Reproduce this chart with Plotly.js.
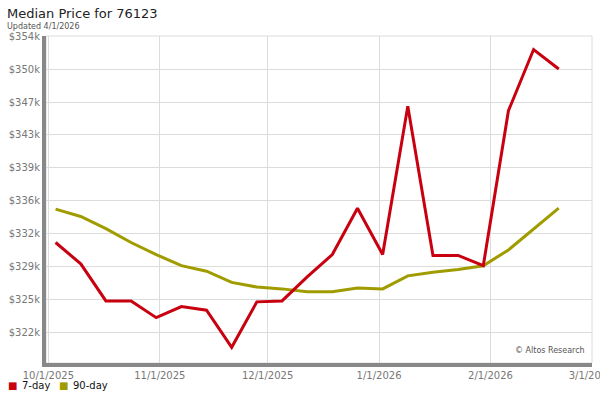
<!DOCTYPE html>
<html>
<head>
<meta charset="utf-8">
<script src="https://cdn.plot.ly/plotly-3.0.1.min.js"></script>
<style>html,body{margin:0;padding:0;background:#fff;}#chart{width:600px;height:400px;}</style>
</head>
<body>
<div id="chart"></div>
<script>
// Weekly dates
const dates = ["2025-10-03","2025-10-10","2025-10-17","2025-10-24","2025-10-31","2025-11-07","2025-11-14","2025-11-21","2025-11-28","2025-12-05","2025-12-12","2025-12-19","2025-12-26","2026-01-02","2026-01-09","2026-01-16","2026-01-23","2026-01-30","2026-02-06","2026-02-13","2026-02-20"];
// Median price, 7-day (thousands of $)
const sevenDay = [331.4,329.1,325.1,325.1,323.3,324.5,324.1,320.1,325.0,325.1,327.7,330.1,335.1,330.1,346.1,330.0,330.0,328.9,345.6,352.2,350.1];
// Median price, 90-day (thousands of $)
const ninetyDay = [335.0,334.2,332.9,331.4,330.1,328.9,328.3,327.1,326.6,326.4,326.1,326.1,326.5,326.4,327.8,328.2,328.5,328.9,330.6,332.8,335.1];
// Y tick positions and labels
const yTickVals = [321.75,325.29,328.83,332.37,335.91,339.45,342.99,346.53,350.07,353.61];
const yTickText = ["$322k","$325k","$329k","$332k","$336k","$339k","$343k","$347k","$350k","$354k"];
const xTickVals = ["2025-10-01","2025-11-01","2025-12-01","2026-01-01","2026-02-01","2026-03-01"];
const xTickText = ["10/1/2025","11/1/2025","12/1/2025","1/1/2026","2/1/2026","3/1/2026"];
const seriesNames = ["7-day", "90-day"];

const RED = "#c8000f";
const OLIVE = "#a09c00";
const FONT = "DejaVu Sans, Verdana, sans-serif";

const traces = [
  {x: dates, y: ninetyDay, type: "scatter", mode: "lines", line: {color: OLIVE, width: 3}, name: seriesNames[1], showlegend: false, hoverinfo: "skip"},
  {x: dates, y: sevenDay, type: "scatter", mode: "lines", line: {color: RED, width: 3}, name: seriesNames[0], showlegend: false, hoverinfo: "skip"}
];

const legY = -0.07;
const layout = {
  width: 600, height: 400,
  margin: {l: 46, r: 8, t: 36, b: 37},
  paper_bgcolor: "#fff", plot_bgcolor: "#fff",
  font: {family: FONT, size: 10, color: "#777"},
  showlegend: false,
  xaxis: {
    type: "date",
    range: ["2025-09-30 08:00", "2026-03-01 06:00"],
    tickvals: xTickVals, ticktext: xTickText,
    ticklabeloverflow: "allow",
    showgrid: true, gridcolor: "#dcdcdc", gridwidth: 1,
    showline: true, linecolor: "#888", linewidth: 4,
    ticks: "", zeroline: false,
    tickfont: {family: FONT, size: 10, color: "#777"}
  },
  yaxis: {
    range: [318.41, 353.66],
    tickvals: yTickVals, ticktext: yTickText,
    showgrid: true, gridcolor: "#dcdcdc", gridwidth: 1,
    showline: true, linecolor: "#888", linewidth: 4,
    ticks: "", zeroline: false,
    tickfont: {family: FONT, size: 10, color: "#777"}
  },
  shapes: [
    {type: "rect", xref: "paper", yref: "paper", x0: 0, x1: 1, y0: 0, y1: 1, line: {color: "#dcdcdc", width: 1}, fillcolor: "rgba(0,0,0,0)", layer: "below"}
  ],
  annotations: [
    {text: "Median Price for 76123", xref: "paper", yref: "paper", x: -0.073, y: 1.095, xanchor: "left", yanchor: "top", borderpad: 0, showarrow: false, font: {family: FONT, size: 13, color: "#222"}},
    {text: "Updated 4/1/2026", xref: "paper", yref: "paper", x: -0.073, y: 1.046, xanchor: "left", yanchor: "top", borderpad: 0, showarrow: false, font: {family: FONT, size: 8, color: "#555"}},
    {text: "© Altos Research", xref: "paper", yref: "paper", x: 0.99, y: 0.018, xanchor: "right", yanchor: "bottom", showarrow: false, font: {family: FONT, size: 8, color: "#555"}},
    {text: "■", xref: "paper", yref: "paper", x: -0.073, y: legY, xanchor: "left", yanchor: "middle", showarrow: false, font: {family: FONT, size: 10, color: RED}},
    {text: seriesNames[0], xref: "paper", yref: "paper", x: -0.047, y: legY, xanchor: "left", yanchor: "middle", showarrow: false, font: {family: FONT, size: 10, color: "#111"}},
    {text: "■", xref: "paper", yref: "paper", x: 0.020, y: legY, xanchor: "left", yanchor: "middle", showarrow: false, font: {family: FONT, size: 10, color: OLIVE}},
    {text: seriesNames[1], xref: "paper", yref: "paper", x: 0.045, y: legY, xanchor: "left", yanchor: "middle", showarrow: false, font: {family: FONT, size: 10, color: "#111"}}
  ]
};

Plotly.newPlot("chart", traces, layout, {displayModeBar: false, staticPlot: true});
</script>
</body>
</html>
